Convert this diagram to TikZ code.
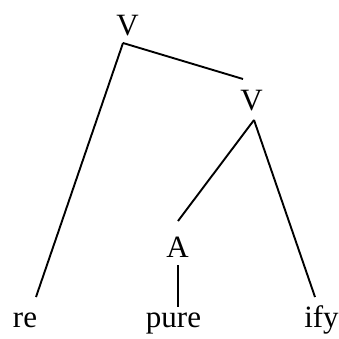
\documentclass[tikz,border=0pt]{standalone}
\usepackage{fontspec}
\setmainfont{Liberation Serif}
\usetikzlibrary{calc}
\begin{document}
\begin{tikzpicture}[x=1pt,y=-1pt,
  lbl/.style={font=\fontsize{31}{31}\selectfont, inner sep=0pt, anchor=base},
  edge/.style={line width=1.9pt}]
\useasboundingbox (0,0) rectangle (339,338);
\node[lbl] (v1) at (127.5,35) {V};
\node[lbl] (v2) at (251.5,110) {V};
\node[lbl] (a) at (177.5,257) {A};
\node[lbl] (re) at (25,327) {re};
\node[lbl] (pure) at (173.5,327) {pure};
\node[lbl] (ify) at (321.5,327) {ify};
\draw[edge] ($(v1.base)+(-4.5,8)$) -- ($(re.base)+(11,-30)$);
\draw[edge] ($(v1.base)+(-4.5,8)$) -- ($(v2.base)+(-8.5,-31)$);
\draw[edge] ($(v2.base)+(2.5,10)$) -- ($(a.base)+(0.5,-36)$);
\draw[edge] ($(v2.base)+(2.5,10)$) -- ($(ify.base)+(-6.5,-30)$);
\draw[edge] ($(a.base)+(0.5,8)$) -- ($(pure.base)+(4.5,-20)$);
\end{tikzpicture}
\end{document}
